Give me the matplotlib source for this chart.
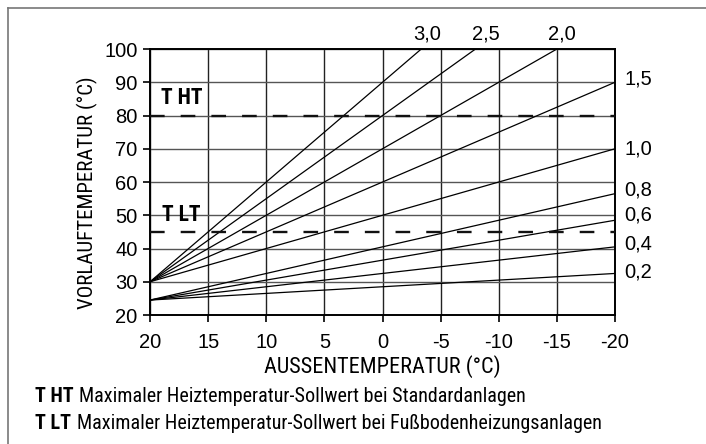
import numpy as np
import matplotlib
matplotlib.use('Agg')
import matplotlib.pyplot as plt
from matplotlib.lines import Line2D

plt.rcParams['font.family'] = ['Liberation Sans', 'DejaVu Sans']
plt.rcParams['axes.unicode_minus'] = False
schmal = ['Roboto Condensed', 'Liberation Sans']

# Daten aus dem Diagramm (Heizkennlinien)
aussen_temp = [20, -20]
kurven_namen = ['3,0', '2,5', '2,0', '1,5', '1,0', '0,8', '0,6', '0,4', '0,2']
vorlauf_start = [30, 30, 30, 30, 30, 24.5, 24.5, 24.5, 24.5]
vorlauf_ende = [150, 130, 110, 90, 70, 56.5, 48.5, 40.5, 32.5]

# Beschriftungen: oben (austretende Kurven) und rechts
oben_namen = ['3,0', '2,5', '2,0']
oben_x = [-3.8, -8.9, -15.4]
rechts_namen = ['1,5', '1,0', '0,8', '0,6', '0,4', '0,2']
rechts_y = [91, 70, 57.5, 50, 41.5, 33]

t_ht = 80
t_lt = 45

fig = plt.figure(figsize=(7.06, 4.44), dpi=100)
ax = fig.add_axes([0.2125, 0.2905, 0.6586, 0.5991])

for y0, y1 in zip(vorlauf_start, vorlauf_ende):
    ax.plot(aussen_temp, [y0, y1], color='black', linewidth=0.9)

# Grenzwerte T HT / T LT
for val in [t_ht, t_lt]:
    ax.axhline(val, color='#111111', linewidth=1.7, linestyle=(0, (6.2, 6.8)), zorder=3)

ax.text(17.3, t_ht + 5.3, 'T HT', fontsize=15.5, fontweight='bold', ha='center', va='center', family=schmal)
ax.text(17.3, t_lt + 5.0, 'T LT', fontsize=15.5, fontweight='bold', ha='center', va='center', family=schmal)

for name, xx in zip(oben_namen, oben_x):
    ax.annotate(name, xy=(xx, 100), xytext=(0, 4), textcoords='offset points',
                ha='center', va='bottom', fontsize=14.5, annotation_clip=False)
for name, yy in zip(rechts_namen, rechts_y):
    ax.annotate(name, xy=(-20, yy), xytext=(7, 0), textcoords='offset points',
                ha='left', va='center', fontsize=14.5, annotation_clip=False)

ax.set_xlim(20, -20)
ax.set_ylim(20, 100)
ax.set_xticks(np.arange(20, -21, -5))
ax.set_yticks(np.arange(20, 101, 10))
ax.tick_params(labelsize=14.5, length=5, width=1.2, color='black')
ax.tick_params(axis='y', pad=4)
ax.tick_params(axis='x', pad=8)
ax.grid(axis='x', color='#222222', linewidth=1.0)
ax.grid(axis='y', color='#555555', linewidth=1.0)
for s in ax.spines.values():
    s.set_color('black')
    s.set_linewidth(1.4)

ax.set_xlabel('AUSSENTEMPERATUR (°C)', fontsize=16, labelpad=2, family=schmal)
ax.set_ylabel('VORLAUFTEMPERATUR (°C)', fontsize=15, family=schmal)
ax.yaxis.set_label_coords(-0.112, 0.459)

# Legende unten
t1 = fig.text(0.05, 0.086, 'T HT', fontsize=14.5, fontweight='bold', va='bottom', family=schmal)
ax.annotate('Maximaler Heiztemperatur-Sollwert bei Standardanlagen', xy=(1, 0), xycoords=t1,
            xytext=(4, 0), textcoords='offset points', va='bottom', fontsize=14.5,
            annotation_clip=False, family=schmal)
t2 = fig.text(0.05, 0.025, 'T LT', fontsize=14.5, fontweight='bold', va='bottom', family=schmal)
ax.annotate('Maximaler Heiztemperatur-Sollwert bei Fußbodenheizungsanlagen', xy=(1, 0), xycoords=t2,
            xytext=(4, 0), textcoords='offset points', va='bottom', fontsize=14.5,
            annotation_clip=False, family=schmal)

# Rahmen
fig.add_artist(Line2D([8 / 706, 1], [1 - 8 / 444, 1 - 8 / 444], color='#777777', linewidth=1.2))
fig.add_artist(Line2D([8 / 706, 8 / 706], [0, 1 - 8 / 444], color='#777777', linewidth=1.2))

fig.savefig('out.png', dpi=100)
